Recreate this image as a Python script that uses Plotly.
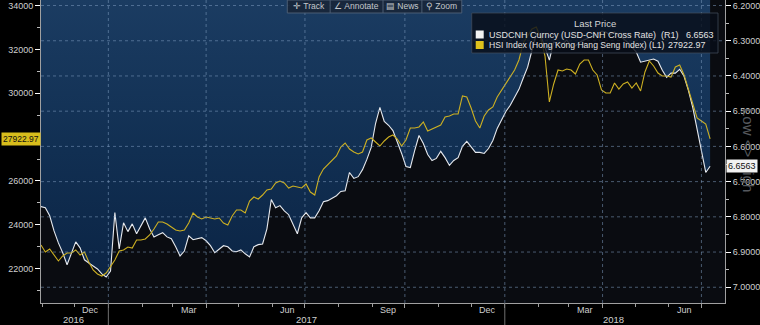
import pandas as pd
import plotly.graph_objects as go

# ---------------- data ----------------
start_date = "2016-10-31"
step = "4D"

usdcnh = [
    6.771, 6.774, 6.797, 6.840, 6.874, 6.902, 6.936, 6.905, 6.871, 6.888,
    6.922, 6.931, 6.939, 6.948, 6.962, 6.971, 6.954, 6.788, 6.891, 6.817,
    6.842, 6.820, 6.848, 6.825, 6.803, 6.834, 6.857, 6.851, 6.845, 6.857,
    6.862, 6.885, 6.911, 6.897, 6.854, 6.865, 6.862, 6.859, 6.868, 6.882,
    6.902, 6.891, 6.882, 6.885, 6.897, 6.899, 6.894, 6.905, 6.914, 6.885,
    6.879, 6.877, 6.834, 6.751, 6.774, 6.768, 6.783, 6.794, 6.822, 6.848,
    6.803, 6.788, 6.803, 6.803, 6.783, 6.757, 6.754, 6.748, 6.740, 6.728,
    6.726, 6.674, 6.691, 6.686, 6.666, 6.637, 6.603, 6.535, 6.489, 6.529,
    6.540, 6.555, 6.586, 6.620, 6.657, 6.660, 6.612, 6.569, 6.592, 6.623,
    6.640, 6.634, 6.614, 6.632, 6.654, 6.640, 6.632, 6.600, 6.586, 6.600,
    6.617, 6.617, 6.620, 6.606, 6.583, 6.549, 6.526, 6.501, 6.483, 6.461,
    6.438, 6.406, 6.375, 6.327, 6.281, 6.284, 6.318, 6.355, 6.304, 6.307,
    6.310, 6.298, 6.315, 6.315, 6.304, 6.298, 6.293, 6.287, 6.281, 6.273,
    6.275, 6.284, 6.275, 6.284, 6.293, 6.304, 6.318, 6.332, 6.361, 6.358,
    6.355, 6.352, 6.358, 6.384, 6.404, 6.392, 6.392, 6.381, 6.401, 6.441,
    6.489, 6.549, 6.612, 6.674, 6.6563,
]

hsi = [
    23073, 22754, 22891, 22617, 22343, 22571, 22708, 22708, 22845, 22617,
    22754, 22297, 21932, 21749, 21658, 21795, 22069, 22388, 22799, 22845,
    22982, 22936, 23302, 23302, 23347, 23530, 23804, 24124, 24124, 24032,
    23895, 23758, 23713, 23758, 24078, 24535, 24352, 24261, 24352, 24306,
    24261, 24306, 24078, 23987, 24397, 24671, 24671, 24535, 25082, 25265,
    25174, 25356, 25585, 25630, 25904, 25995, 25904, 25676, 25767, 25721,
    25676, 25859, 25493, 25356, 26178, 26543, 26726, 26909, 27137, 27549,
    27731, 27457, 27320, 27228, 27320, 27868, 27959, 27776, 27594, 27822,
    28005, 28096, 27913, 27594, 27868, 28416, 28416, 28462, 28689, 28278,
    28370, 28462, 28553, 28918, 28963, 29055, 29055, 29877, 29831, 29329,
    28735, 28416, 28963, 29237, 29374, 29831, 30151, 30470, 30744, 31064,
    31520, 32297, 32616, 32936, 33027, 32525, 31703, 29603, 30425, 31064,
    31018, 31110, 31064, 30881, 31338, 31520, 31520, 31064, 30836, 30151,
    30014, 30014, 30470, 30196, 30425, 30516, 30242, 30470, 30105, 30973,
    31475, 31247, 30927, 30790, 30790, 30744, 31201, 31292, 30836, 30151,
    29466, 28872, 28735, 28598, 27922.97,
]

cnh_name = "USDCNH Curncy (USD-CNH Cross Rate)\u00a0\u00a0(R1)"
hsi_name = "HSI Index (Hong Kong Hang Seng Index)\u00a0(L1)"
legend_header = "Last Price"

hsi_ticks = [22000, 24000, 26000, 28000, 30000, 32000, 34000]
# the 28000 label sits under the last-value tag in the reference
hsi_tick_text = ["22000", "24000", "26000", "", "30000", "32000", "34000"]
cnh_ticks = [6.2, 6.3, 6.4, 6.5, 6.6, 6.7, 6.8, 6.9, 7.0]
quarter_starts = ["2017-01-01", "2017-04-01", "2017-07-01", "2017-10-01",
                  "2018-01-01", "2018-04-01", "2018-07-01"]
year_starts = ["2017-01-01", "2018-01-01"]
month_labels = ["Dec", "Mar", "Jun", "Sep", "Dec", "Mar", "Jun"]
month_label_dates = ["2016-12-16", "2017-03-16", "2017-06-15", "2017-09-15",
                     "2017-12-16", "2018-03-16", "2018-06-15"]
year_labels = ["2016", "2017", "2018"]
year_label_dates = ["2016-11-30", "2017-07-02", "2018-04-11"]
toolbar_items = ["\u271b\u00a0Track", "\u2220\u00a0Annotate", "\u25a4\u00a0News", "\u26b2\u00a0Zoom"]

dates_cnh = pd.date_range(start_date, periods=len(usdcnh), freq=step)
dates_hsi = pd.date_range(start_date, periods=len(hsi), freq=step)

# ---------------- styling ----------------
W, H = 760, 325
ML, MR, MT, MB = 41, 33, 0, 22
PW, PH = W - ML - MR, H - MT - MB
FONT = "Liberation Sans Narrow, Arial Narrow, Liberation Sans, Arial, sans-serif"
TXT = "#cfcfcf"
YELLOW = "#cdb022"
GRID = "rgba(125,155,190,0.55)"


def px(x):
    return (x - ML) / PW


def py(y):
    return 1 - (y - MT) / PH


fig = go.Figure()

# USD-CNH (right axis, reversed) -> sky fill above the line
fig.add_trace(go.Scatter(
    x=dates_cnh, y=usdcnh, yaxis="y", mode="lines",
    line=dict(color="#e6e9ee", width=1.1),
    fill="tozeroy",
    fillgradient=dict(type="vertical", start=6.18, stop=7.05,
                      colorscale=[[0, "#1b3c62"], [0.5, "#112f52"], [1, "#0a2242"]]),
    hoverinfo="skip", showlegend=False,
))
# HSI (left axis)
fig.add_trace(go.Scatter(
    x=dates_hsi, y=hsi, yaxis="y2", mode="lines",
    line=dict(color=YELLOW, width=1.1),
    hoverinfo="skip", showlegend=False,
))

shapes = []
# dotted grid on top
for q in quarter_starts:
    shapes.append(dict(type="line", xref="x", yref="paper", x0=q, x1=q, y0=0, y1=1,
                       line=dict(color=GRID, width=1, dash="dot"), layer="above"))
for t in cnh_ticks:
    shapes.append(dict(type="line", xref="paper", yref="y", x0=0, x1=1, y0=t, y1=t,
                       line=dict(color=GRID, width=1, dash="dot"), layer="above"))
# year separators under the axis
for ys in year_starts:
    shapes.append(dict(type="line", xref="x", yref="paper", x0=ys, x1=ys,
                       y0=py(H), y1=0, line=dict(color="#6f6f6f", width=1), layer="above"))

# legend box
shapes.append(dict(type="rect", xref="paper", yref="paper",
                   x0=px(473), x1=px(720), y0=py(53), y1=py(13),
                   fillcolor="rgba(8,14,24,0.82)", line=dict(color="rgba(70,80,95,0.7)", width=1),
                   layer="above"))
shapes.append(dict(type="rect", xref="paper", yref="paper",
                   x0=px(477), x1=px(485), y0=py(38.5), y1=py(30.5),
                   fillcolor="#f2f2f2", line=dict(width=0), layer="above"))
shapes.append(dict(type="rect", xref="paper", yref="paper",
                   x0=px(477), x1=px(485), y0=py(49), y1=py(41),
                   fillcolor="#e0c21c", line=dict(width=0), layer="above"))
# toolbar
shapes.append(dict(type="rect", xref="paper", yref="paper",
                   x0=px(288), x1=px(463), y0=py(13), y1=py(0),
                   fillcolor="rgba(24,38,58,0.92)", line=dict(color="rgba(80,98,120,0.9)", width=1),
                   layer="above"))
for sx in [331, 384, 423]:
    shapes.append(dict(type="line", xref="paper", yref="paper", x0=px(sx), x1=px(sx),
                       y0=py(13), y1=py(0), line=dict(color="rgba(80,98,120,0.9)", width=1),
                       layer="above"))

ann = []
# Low <> High (drawn first so that the tags sit on top of it)
ann.append(dict(x=1, xref="paper", xshift=24, y=py(150), yref="paper", text="Low\u00a0<>\u00a0High",
                showarrow=False, textangle=90,
                font=dict(family=FONT, size=15, color="#55585d"), xanchor="center", yanchor="middle"))

for lab, d in zip(month_labels, month_label_dates):
    ann.append(dict(x=d, xref="x", y=py(310), yref="paper", text=lab, showarrow=False,
                    font=dict(family=FONT, size=9, color=TXT), xanchor="center", yanchor="middle"))
for lab, d in zip(year_labels, year_label_dates):
    ann.append(dict(x=d, xref="x", y=py(320), yref="paper", text=lab, showarrow=False,
                    font=dict(family=FONT, size=9.5, color=TXT), xanchor="center", yanchor="middle"))

# legend texts
LF = 9
ann.append(dict(x=px(597), y=py(23.5), xref="paper", yref="paper", text=legend_header,
                showarrow=False, font=dict(family=FONT, size=LF + 0.5, color="#d6d6d6"),
                xanchor="center", yanchor="middle"))
ann.append(dict(x=px(488), y=py(34.5), xref="paper", yref="paper", text=cnh_name,
                showarrow=False, font=dict(family=FONT, size=LF, color="#e2e2e2"),
                xanchor="left", yanchor="middle"))
ann.append(dict(x=px(718), y=py(34.5), xref="paper", yref="paper", text=f"{usdcnh[-1]:.4f}",
                showarrow=False, font=dict(family=FONT, size=LF, color="#e2e2e2"),
                xanchor="right", yanchor="middle"))
ann.append(dict(x=px(488), y=py(45), xref="paper", yref="paper", text=hsi_name,
                showarrow=False, font=dict(family=FONT, size=8.6, color="#e2e2e2"),
                xanchor="left", yanchor="middle"))
ann.append(dict(x=px(710), y=py(45), xref="paper", yref="paper", text=f"{hsi[-1]:.2f}",
                showarrow=False, font=dict(family=FONT, size=LF, color="#e2e2e2"),
                xanchor="right", yanchor="middle"))

# toolbar texts
for lab, cx in zip(toolbar_items, [310, 357.5, 403.5, 443]):
    ann.append(dict(x=px(cx), y=py(6.5), xref="paper", yref="paper", text=lab,
                    showarrow=False, font=dict(family=FONT, size=8.5, color="#c4c8cc"),
                    xanchor="center", yanchor="middle"))

# last value tags
ann.append(dict(x=0, xref="paper", xshift=-ML + 1, y=hsi[-1], yref="y2", text=f"{hsi[-1]:.2f}",
                showarrow=False, bgcolor="#d8bd1c", borderpad=1,
                font=dict(family=FONT, size=8.5, color="#111111"), xanchor="left", yanchor="middle"))
ann.append(dict(x=1, xref="paper", xshift=1, y=usdcnh[-1], yref="y", text=f"{usdcnh[-1]:.4f}",
                showarrow=False, bgcolor="#f2f2f2", borderpad=1,
                font=dict(family=FONT, size=9, color="#111111"), xanchor="left", yanchor="middle"))

fig.update_layout(
    width=W, height=H, autosize=False,
    margin=dict(l=ML, r=MR, t=MT, b=MB, pad=0),
    paper_bgcolor="#000000", plot_bgcolor="#0a0c11",
    showlegend=False, hovermode=False,
    font=dict(family=FONT, size=9, color=TXT),
    xaxis=dict(
        type="date", range=["2016-10-31", "2018-07-22 17:00"],
        showgrid=False, zeroline=False, showticklabels=False,
        showline=True, linecolor="#a0a0a0", linewidth=1,
        tickmode="array", tickvals=quarter_starts, ticks="outside", ticklen=4,
        tickcolor="#a0a0a0",
        minor=dict(dtick="M1", tick0="2016-11-01", ticks="outside", ticklen=3,
                   tickcolor="#a0a0a0", showgrid=False),
    ),
    yaxis=dict(
        side="right", range=[7.0447, 6.1843], showgrid=False, zeroline=False,
        tickmode="array", tickvals=cnh_ticks, tickformat=".4f",
        ticks="outside", ticklen=5, tickcolor="#ffffff",
        tickfont=dict(family=FONT, size=9, color=TXT),
        showline=True, linecolor="#a0a0a0", linewidth=1,
        minor=dict(dtick=0.05, tick0=6.2, ticks="outside", ticklen=3, tickcolor="#bbbbbb"),
    ),
    yaxis2=dict(
        side="left", overlaying="y", range=[20425, 34260], showgrid=False, zeroline=False,
        tickmode="array", tickvals=hsi_ticks, ticktext=hsi_tick_text,
        ticks="outside", ticklen=5, tickcolor="#ffffff",
        tickfont=dict(family=FONT, size=9, color=TXT),
        showline=True, linecolor="#a0a0a0", linewidth=1,
        minor=dict(dtick=1000, tick0=21000, ticks="outside", ticklen=3, tickcolor="#bbbbbb"),
    ),
    shapes=shapes,
    annotations=ann,
)

fig.write_html("out.html", config={"displayModeBar": False, "staticPlot": True})
